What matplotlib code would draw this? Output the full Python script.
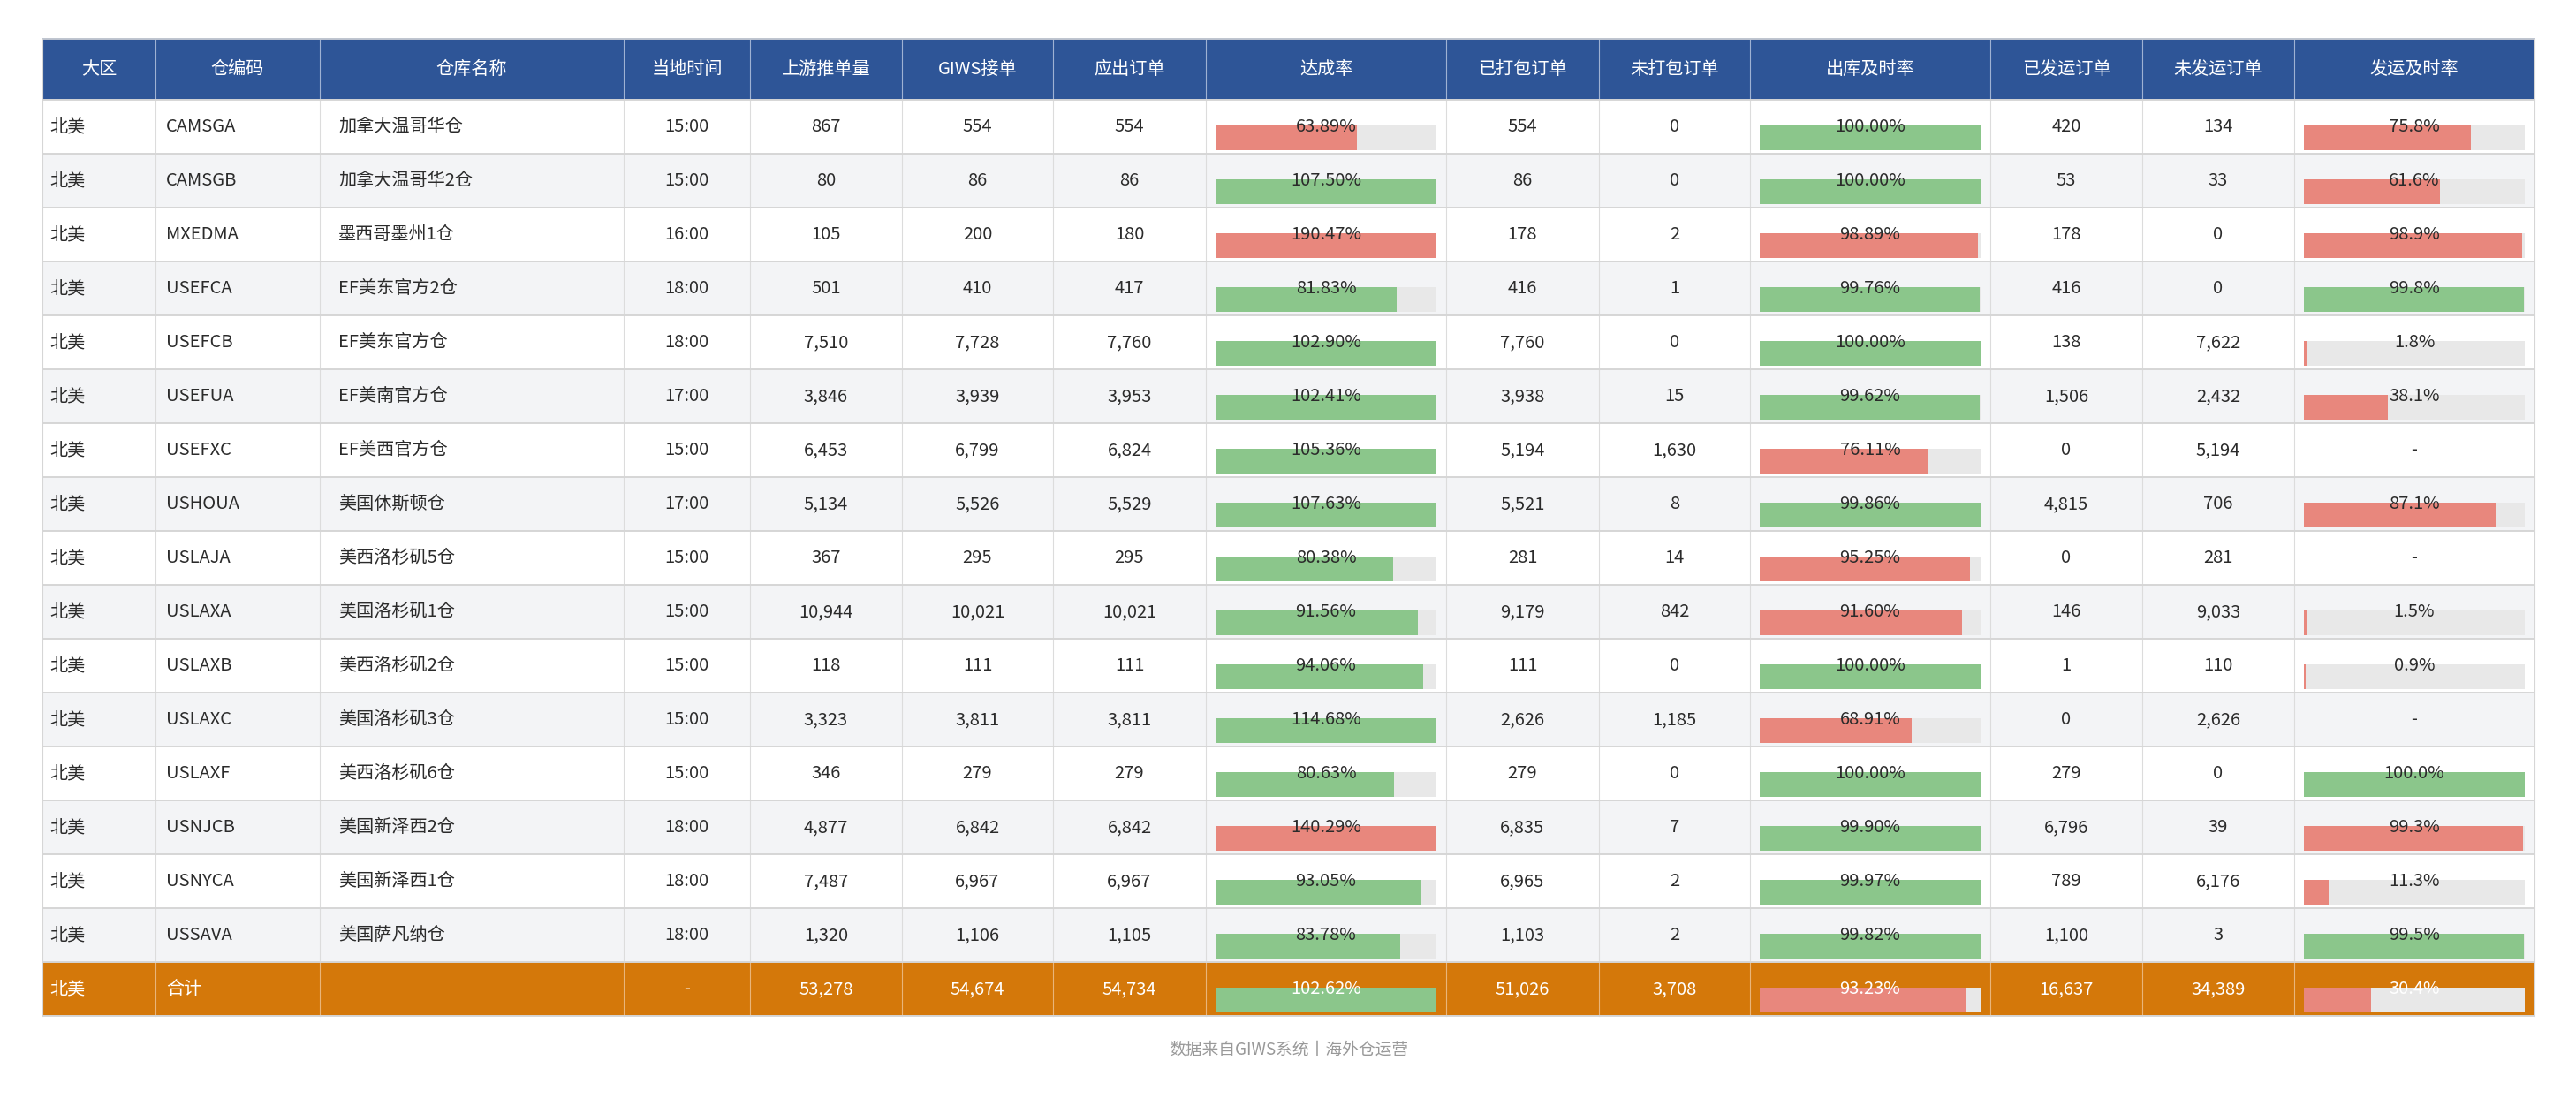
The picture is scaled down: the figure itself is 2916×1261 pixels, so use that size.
import matplotlib
matplotlib.use("Agg")
import matplotlib.pyplot as plt
from matplotlib.patches import Rectangle

plt.rcParams['font.family'] = ['Noto Sans CJK SC', 'DejaVu Sans']

# ---------------- data ----------------
headers = ["大区", "仓编码", "仓库名称", "当地时间", "上游推单量", "GIWS接单", "应出订单", "达成率",
           "已打包订单", "未打包订单", "出库及时率", "已发运订单", "未发运订单", "发运及时率"]

regions = ["北美"] * 16
codes = ["CAMSGA", "CAMSGB", "MXEDMA", "USEFCA", "USEFCB", "USEFUA", "USEFXC", "USHOUA",
         "USLAJA", "USLAXA", "USLAXB", "USLAXC", "USLAXF", "USNJCB", "USNYCA", "USSAVA"]
names = ["加拿大温哥华仓", "加拿大温哥华2仓", "墨西哥墨州1仓", "EF美东官方2仓", "EF美东官方仓", "EF美南官方仓",
         "EF美西官方仓", "美国休斯顿仓", "美西洛杉矶5仓", "美国洛杉矶1仓", "美西洛杉矶2仓", "美国洛杉矶3仓",
         "美西洛杉矶6仓", "美国新泽西2仓", "美国新泽西1仓", "美国萨凡纳仓"]
local_times = ["15:00", "15:00", "16:00", "18:00", "18:00", "17:00", "15:00", "17:00",
               "15:00", "15:00", "15:00", "15:00", "15:00", "18:00", "18:00", "18:00"]
upstream = [867, 80, 105, 501, 7510, 3846, 6453, 5134, 367, 10944, 118, 3323, 346, 4877, 7487, 1320]
giws = [554, 86, 200, 410, 7728, 3939, 6799, 5526, 295, 10021, 111, 3811, 279, 6842, 6967, 1106]
due = [554, 86, 180, 417, 7760, 3953, 6824, 5529, 295, 10021, 111, 3811, 279, 6842, 6967, 1105]
achieve_rate = [63.89, 107.50, 190.47, 81.83, 102.90, 102.41, 105.36, 107.63,
                80.38, 91.56, 94.06, 114.68, 80.63, 140.29, 93.05, 83.78]
packed = [554, 86, 178, 416, 7760, 3938, 5194, 5521, 281, 9179, 111, 2626, 279, 6835, 6965, 1103]
unpacked = [0, 0, 2, 1, 0, 15, 1630, 8, 14, 842, 0, 1185, 0, 7, 2, 2]
outbound_rate = [100.00, 100.00, 98.89, 99.76, 100.00, 99.62, 76.11, 99.86,
                 95.25, 91.60, 100.00, 68.91, 100.00, 99.90, 99.97, 99.82]
shipped = [420, 53, 178, 416, 138, 1506, 0, 4815, 0, 146, 1, 0, 279, 6796, 789, 1100]
unshipped = [134, 33, 0, 0, 7622, 2432, 5194, 706, 281, 9033, 110, 2626, 0, 39, 6176, 3]
ship_rate = [75.8, 61.6, 98.9, 99.8, 1.8, 38.1, None, 87.1, None, 1.5, 0.9, None, 100.0, 99.3, 11.3, 99.5]

total_region = "北美"
total_label = "合计"
total_time = "-"
total_upstream = 53278
total_giws = 54674
total_due = 54734
total_achieve = 102.62
total_packed = 51026
total_unpacked = 3708
total_outbound = 93.23
total_shipped = 16637
total_unshipped = 34389
total_ship_rate = 30.4

footnote = "数据来自GIWS系统丨海外仓运营"

# ---------------- style / layout ----------------
W, H = 2916, 1261
col_edges = [48, 176, 362, 706, 849, 1021, 1192, 1365, 1637, 1810, 1981, 2253, 2425, 2597, 2869]
table_top = 44
header_h = 69
row_h = 61
HEADER_BG = "#2E5597"
ALT_BG = "#F3F4F6"
TOTAL_BG = "#D4780A"
RED = "#E8877D"
GREEN = "#8BC68B"
TRACK = "#E8E8E8"
TXT = "#2B2B2B"
FS = 14.5

fig = plt.figure(figsize=(W / 100, H / 100), dpi=100)
ax = fig.add_axes([0, 0, 1, 1])
ax.set_xlim(0, W)
ax.set_ylim(H, 0)
ax.axis("off")


def fmt(n):
    return f"{n:,}"


def achieve_good(v):
    return 80 <= v <= 120


def outbound_good(v):
    return v >= 99.5


def ship_good(v):
    return v >= 99.5


def bar_cell(c, top, value, good, text, color):
    x0 = col_edges[c] + 11
    x1 = col_edges[c + 1] - 11
    w = x1 - x0
    ax.add_patch(Rectangle((x0, top + 28.5), w, 28, facecolor=TRACK, edgecolor="none", zorder=2))
    frac = min(value, 100.0) / 100.0
    ax.add_patch(Rectangle((x0, top + 28.5), w * frac, 28, facecolor=GREEN if good else RED,
                           edgecolor="none", zorder=3))
    cx = (col_edges[c] + col_edges[c + 1]) / 2
    ax.text(cx, top + row_h / 2, text, ha="center", va="center", fontsize=FS, color=color, zorder=4)


left_pad = [8, 12, 21]

# header
ax.add_patch(Rectangle((col_edges[0], table_top), col_edges[-1] - col_edges[0], header_h,
                       facecolor=HEADER_BG, edgecolor="none", zorder=1))
for i, h in enumerate(headers):
    cx = (col_edges[i] + col_edges[i + 1]) / 2
    ax.text(cx, table_top + header_h / 2, h, ha="center", va="center", fontsize=FS, color="white", zorder=4)
for x in col_edges[1:-1]:
    ax.plot([x, x], [table_top, table_top + header_h], color="#9FB2D3", lw=0.8, zorder=4)

n = len(codes)
body_top = table_top + header_h


def draw_row(top, vals, bg, color, rates, vline_color):
    ax.add_patch(Rectangle((col_edges[0], top), col_edges[-1] - col_edges[0], row_h,
                           facecolor=bg, edgecolor="none", zorder=1))
    for c, v in enumerate(vals):
        if v is None:
            continue
        if c < 3:
            ax.text(col_edges[c] + left_pad[c], top + row_h / 2, v, ha="left", va="center",
                    fontsize=FS, color=color, zorder=4)
        else:
            cx = (col_edges[c] + col_edges[c + 1]) / 2
            ax.text(cx, top + row_h / 2, v, ha="center", va="center", fontsize=FS, color=color, zorder=4)
    a, o, s = rates
    bar_cell(7, top, a, achieve_good(a), f"{a:.2f}%", color)
    bar_cell(10, top, o, outbound_good(o), f"{o:.2f}%", color)
    if s is None:
        cx = (col_edges[13] + col_edges[14]) / 2
        ax.text(cx, top + row_h / 2, "-", ha="center", va="center", fontsize=FS, color=color, zorder=4)
    else:
        bar_cell(13, top, s, ship_good(s), f"{s:.1f}%", color)
    for x in col_edges[1:-1]:
        ax.plot([x, x], [top, top + row_h], color=vline_color, lw=0.8, zorder=5)


for i in range(n):
    top = body_top + i * row_h
    vals = [regions[i], codes[i], names[i], local_times[i], fmt(upstream[i]), fmt(giws[i]), fmt(due[i]), None,
            fmt(packed[i]), fmt(unpacked[i]), None, fmt(shipped[i]), fmt(unshipped[i]), None]
    draw_row(top, vals, "white" if i % 2 == 0 else ALT_BG, TXT,
             (achieve_rate[i], outbound_rate[i], ship_rate[i]), "#DCDCDC")

# total row
top = body_top + n * row_h
vals = [total_region, total_label, "", total_time, fmt(total_upstream), fmt(total_giws), fmt(total_due), None,
        fmt(total_packed), fmt(total_unpacked), None, fmt(total_shipped), fmt(total_unshipped), None]
draw_row(top, vals, TOTAL_BG, "white", (total_achieve, total_outbound, total_ship_rate), "#E9B57A")

# horizontal lines
bottom = body_top + (n + 1) * row_h
for k in range(n + 2):
    y = body_top + k * row_h
    ax.plot([col_edges[0], col_edges[-1]], [y, y], color="#D6D6D6", lw=1.4, zorder=6)
ax.plot([col_edges[0], col_edges[-1]], [table_top, table_top], color="#BFC5CF", lw=1.4, zorder=6)
for x in (col_edges[0], col_edges[-1]):
    ax.plot([x, x], [table_top, bottom], color="#D6D6D6", lw=0.8, zorder=6)

ax.text((col_edges[0] + col_edges[-1]) / 2, bottom + 38, footnote, ha="center", va="center",
        fontsize=13.5, color="#999999")

fig.savefig("out.png", dpi=100)
